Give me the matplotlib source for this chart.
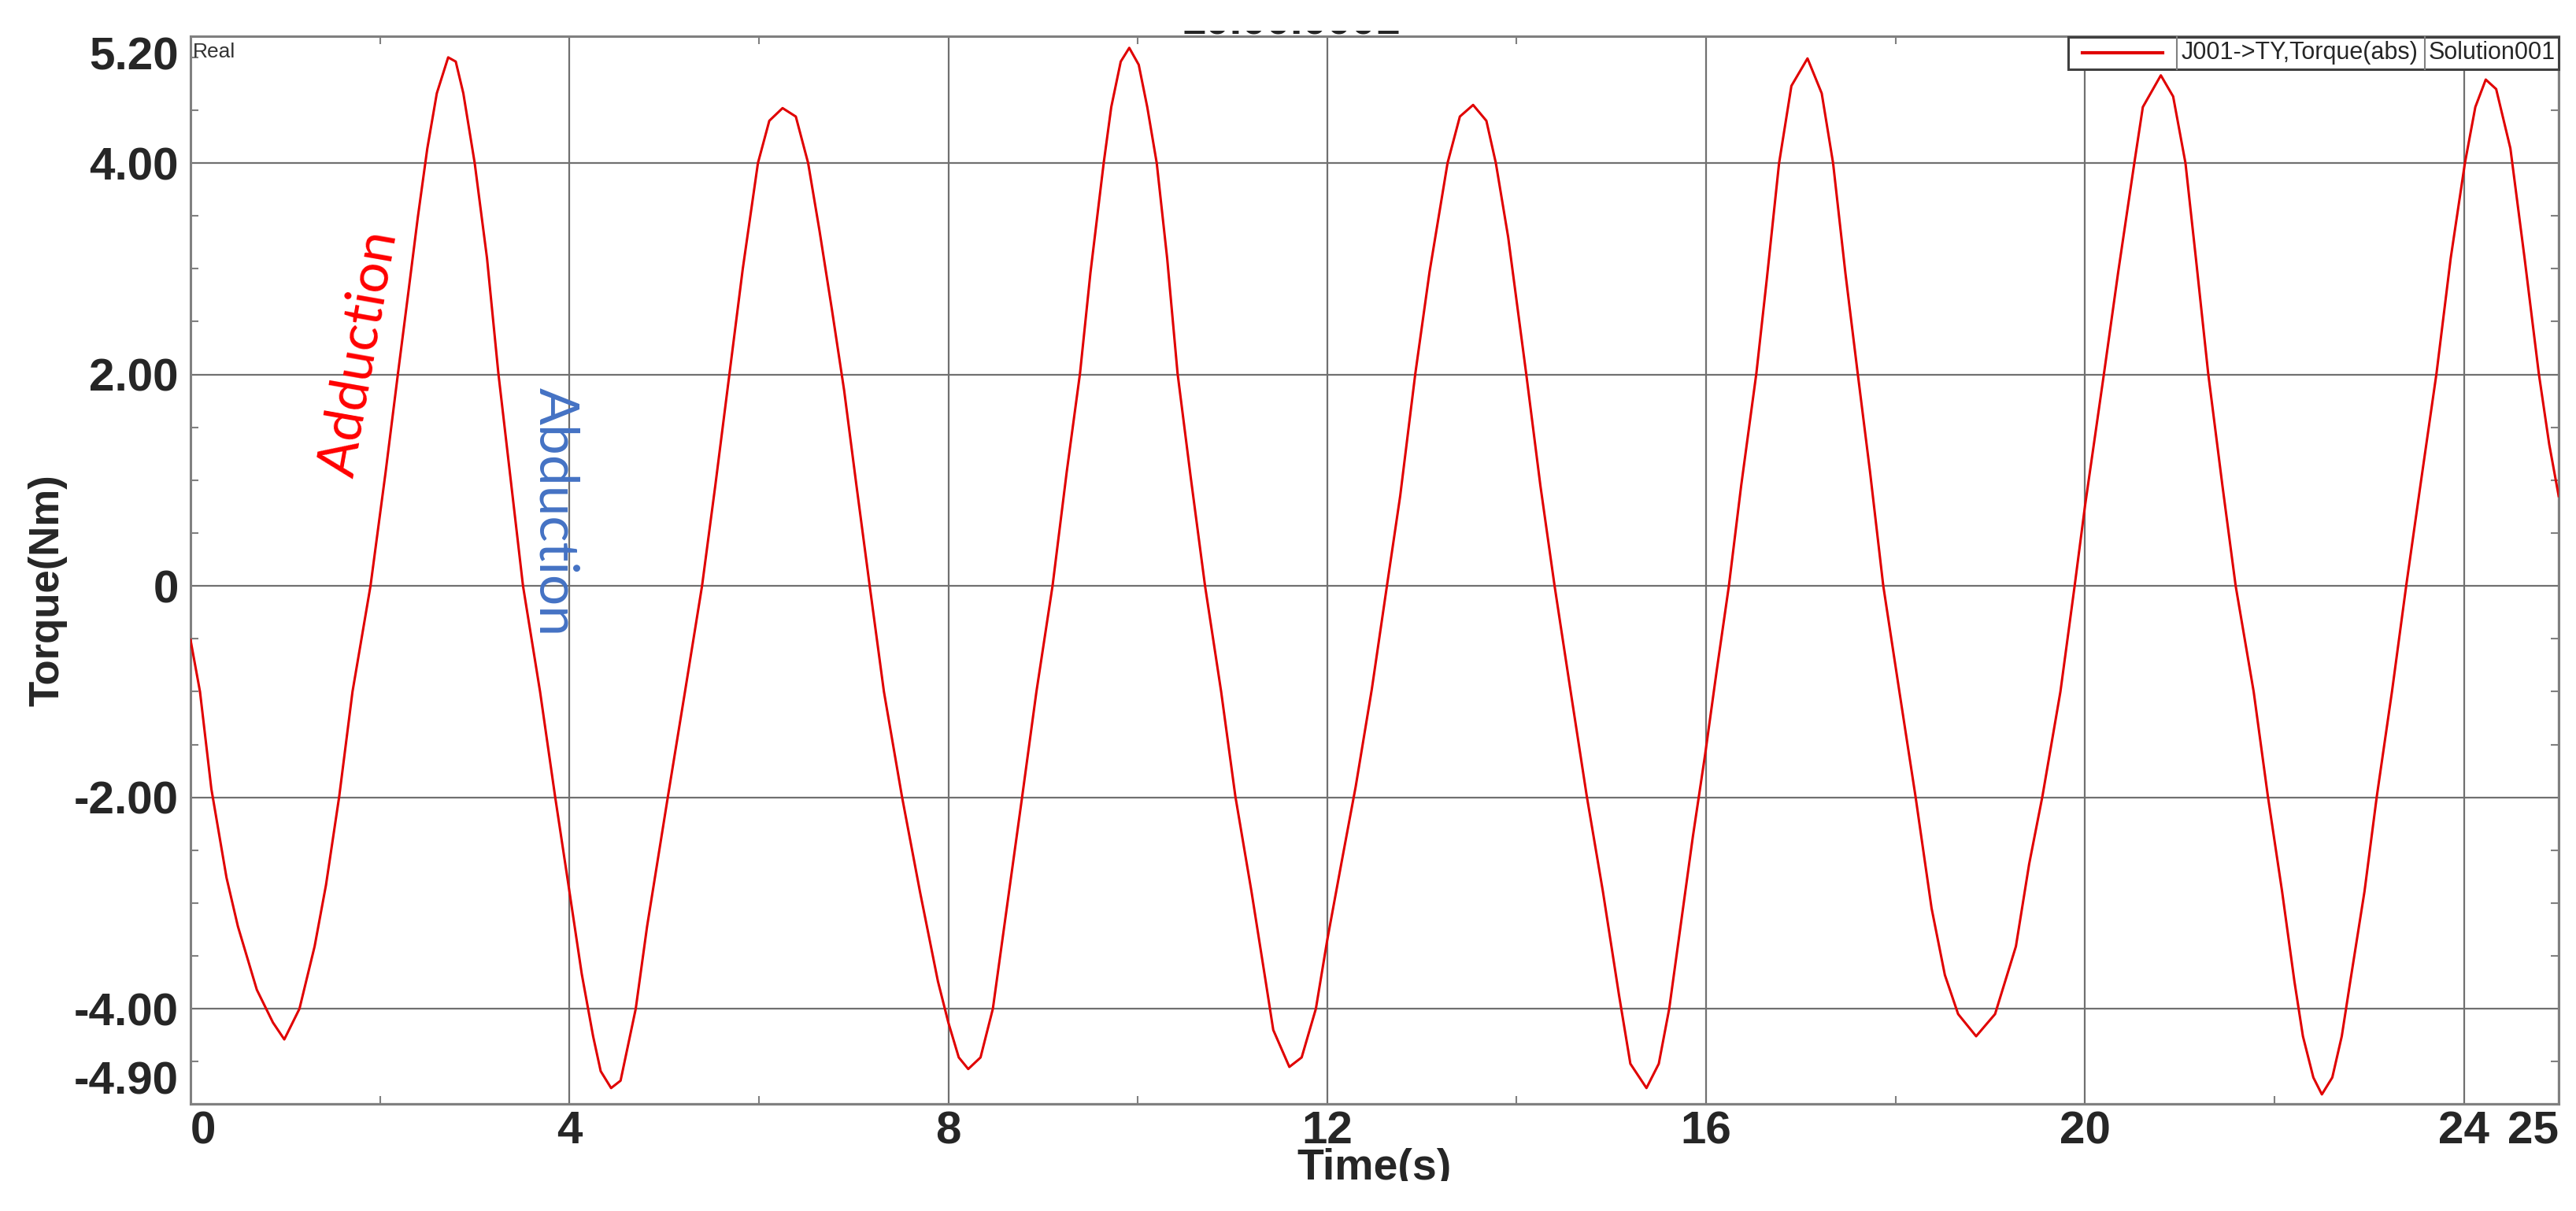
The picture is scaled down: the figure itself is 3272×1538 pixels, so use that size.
import matplotlib
matplotlib.use("Agg")
import matplotlib.pyplot as plt
from matplotlib.patches import Rectangle
from matplotlib.ticker import MultipleLocator
from matplotlib.transforms import Bbox, TransformedBbox

plt.rcParams["font.family"] = ["Liberation Sans", "DejaVu Sans"]

# ------------------------------------------------------------
# Data (time in s, torque in Nm)
# ------------------------------------------------------------
time_s = [
    0.00, 0.10, 0.22, 0.38, 0.50, 0.70, 0.87, 0.99, 1.15, 1.31, 1.43, 1.57, 1.71,
    1.90, 2.06, 2.19, 2.30, 2.40, 2.50, 2.60, 2.72, 2.80, 2.88, 3.00, 3.13, 3.25,
    3.37, 3.51, 3.69, 3.85, 4.00, 4.13, 4.25, 4.33, 4.44, 4.54, 4.70, 4.82, 5.04,
    5.22, 5.40, 5.54, 5.69, 5.83, 5.99, 6.11, 6.25, 6.39, 6.52, 6.64, 6.77, 6.90,
    7.03, 7.17, 7.32, 7.51, 7.70, 7.89, 8.00, 8.11, 8.21, 8.34, 8.47, 8.59, 8.78,
    8.93, 9.10, 9.25, 9.39, 9.50, 9.64, 9.72, 9.82, 9.91, 10.01, 10.10, 10.20,
    10.31, 10.42, 10.56, 10.71, 10.88, 11.03, 11.20, 11.35, 11.43, 11.60, 11.73,
    11.88, 12.00, 12.15, 12.30, 12.47, 12.63, 12.77, 12.93, 13.08, 13.27, 13.40,
    13.54, 13.68, 13.78, 13.91, 14.10, 14.25, 14.40, 14.57, 14.74, 14.91, 15.08,
    15.20, 15.37, 15.50, 15.61, 15.73, 15.86, 15.99, 16.11, 16.24, 16.37, 16.53,
    16.64, 16.77, 16.90, 17.07, 17.22, 17.34, 17.47, 17.60, 17.73, 17.87, 18.04,
    18.21, 18.38, 18.52, 18.66, 18.85, 19.05, 19.27, 19.41, 19.55, 19.74, 19.89,
    20.00, 20.20, 20.35, 20.52, 20.61, 20.80, 20.93, 21.06, 21.17, 21.30, 21.45,
    21.59, 21.78, 21.93, 22.08, 22.21, 22.30, 22.41, 22.50, 22.61, 22.71, 22.80,
    22.95, 23.08, 23.24, 23.39, 23.54, 23.71, 23.86, 24.01, 24.12, 24.23, 24.34,
    24.49, 24.64, 24.79, 24.90, 25.00,
]
torque_nm = [
    -0.51, -1.00, -1.92, -2.76, -3.22, -3.82, -4.13, -4.29, -4.00, -3.41, -2.83,
    -1.99, -1.00, 0.00, 1.08, 2.01, 2.78, 3.49, 4.14, 4.66, 5.00, 4.96, 4.66,
    4.00, 3.10, 2.01, 1.08, 0.00, -1.00, -2.00, -2.89, -3.67, -4.26, -4.59, -4.75,
    -4.68, -4.00, -3.22, -1.99, -1.00, 0.00, 0.95, 2.01, 3.00, 4.00, 4.40, 4.52,
    4.44, 4.00, 3.36, 2.62, 1.85, 0.95, 0.00, -1.00, -1.99, -2.89, -3.74, -4.13,
    -4.46, -4.57, -4.46, -4.00, -3.22, -1.99, -1.00, 0.00, 1.08, 2.01, 2.96, 4.00,
    4.53, 4.96, 5.09, 4.93, 4.53, 4.00, 3.10, 2.01, 1.02, 0.00, -1.00, -1.99,
    -2.89, -3.74, -4.20, -4.55, -4.46, -4.00, -3.35, -2.62, -1.90, -0.98, 0.00,
    0.85, 2.01, 2.97, 4.00, 4.44, 4.55, 4.40, 4.00, 3.30, 2.01, 0.95, 0.00, -1.00,
    -1.99, -2.89, -3.87, -4.52, -4.75, -4.52, -4.00, -3.22, -2.37, -1.59, -0.81,
    0.00, 0.95, 2.01, 2.90, 4.00, 4.73, 4.99, 4.66, 4.00, 2.96, 2.01, 1.08, 0.00,
    -1.00, -1.99, -3.05, -3.68, -4.05, -4.26, -4.05, -3.41, -2.63, -1.99, -1.00,
    0.00, 0.76, 2.01, 2.97, 4.00, 4.53, 4.83, 4.63, 4.00, 3.10, 2.01, 0.95, 0.00,
    -1.00, -1.99, -2.89, -3.74, -4.26, -4.65, -4.81, -4.65, -4.26, -3.74, -2.89,
    -1.99, -1.00, 0.00, 0.95, 2.01, 3.10, 4.00, 4.53, 4.79, 4.70, 4.14, 3.10,
    2.01, 1.34, 0.85,
]

x_ticks = [0, 4, 8, 12, 16, 20, 24, 25]
x_tick_labels = ["0", "4", "8", "12", "16", "20", "24", "25"]
y_ticks = [-4.9, -4.0, -2.0, 0.0, 2.0, 4.0, 5.2]
y_tick_labels = ["-4.90", "-4.00", "-2.00", "0", "2.00", "4.00", "5.20"]

series_name = "J001->TY,Torque(abs)"
solution_name = "Solution001"

line_color = "#e00000"
grid_color = "#707070"
text_color = "#262626"

# ------------------------------------------------------------
# Figure
# ------------------------------------------------------------
fig = plt.figure(figsize=(32.72, 15.38), dpi=100)
ax = fig.add_axes([0.07396, 0.08843, 0.91932, 0.88166])

ax.plot(time_s, torque_nm, color=line_color, lw=2.2, zorder=3)

ax.set_xticks(x_ticks)
ax.set_xticklabels(x_tick_labels)
ax.set_yticks(y_ticks)
ax.set_yticklabels(y_tick_labels)
ax.xaxis.set_minor_locator(MultipleLocator(2))
ax.yaxis.set_minor_locator(MultipleLocator(0.5))

ax.grid(True, which="major", color=grid_color, lw=1.6)
ax.tick_params(which="major", length=0, labelsize=42, labelcolor=text_color)
ax.tick_params(axis="x", which="major", pad=6)
ax.tick_params(axis="y", which="major", pad=11)
ax.tick_params(which="minor", direction="in", length=7, width=1.5,
               color="#808080", top=True, right=True)

for lbl in ax.get_xticklabels() + ax.get_yticklabels():
    lbl.set_fontweight("bold")
xl = ax.get_xticklabels()
xl[0].set_horizontalalignment("left")
xl[-1].set_horizontalalignment("right")
yl = ax.get_yticklabels()
yl[0].set_verticalalignment("bottom")
yl[-1].set_verticalalignment("top")

for sp in ax.spines.values():
    sp.set_color("#808080")
    sp.set_linewidth(2.2)

ax.text(0.001, 0.994, "Real", transform=ax.transAxes, ha="left", va="top",
        fontsize=19, color="#333333")

# legend box drawn as a three-cell strip, top right
lx0, lx1, ly0, ly1 = 0.7929, 1.0, 0.969, 0.999
ax.add_patch(Rectangle((lx0, ly0), lx1 - lx0, ly1 - ly0, transform=ax.transAxes,
                       facecolor="white", edgecolor="#404040", lw=2.2,
                       clip_on=False, zorder=6))
for xd in (0.8388, 0.9435):
    ax.plot([xd, xd], [ly0, ly1], transform=ax.transAxes, color="#808080",
            lw=1.5, clip_on=False, zorder=7)
ax.plot([0.7989, 0.8328], [0.9845, 0.9845], transform=ax.transAxes,
        color=line_color, lw=3, clip_on=False, zorder=7)
ax.text(0.8906, 0.9845, series_name, transform=ax.transAxes, ha="center",
        va="center", fontsize=22, color=text_color, zorder=8)
ax.text(0.9718, 0.9845, solution_name, transform=ax.transAxes, ha="center",
        va="center", fontsize=22, color=text_color, zorder=8)

ax.set_xlim(0, 25)
ax.set_ylim(-4.9, 5.2)

# annotations
fig.text(457 / 3272, 1 - 449 / 1538, "Adduction", rotation=80, color="#ff0000",
         fontsize=50, family="Lato", ha="center", va="center")
fig.text(705 / 3272, 1 - 650 / 1538, "Abduction", rotation=-90, color="#4472c4",
         fontsize=50, family="Lato", ha="center", va="center")

# axis titles
fig.text(60 / 3272, 1 - 750 / 1538, "Torque(Nm)", rotation=90, ha="center",
         va="center", fontsize=38, fontweight="bold", color=text_color)
xlab = fig.text(1746 / 3272, 1 - 1458 / 1538, "Time(s)", ha="center", va="top",
                fontsize=40, fontweight="bold", color=text_color)
xlab.set_clip_box(TransformedBbox(Bbox([[0, 38 / 1538], [1, 1]]), fig.transFigure))
xlab.set_clip_on(True)

# plot title, mostly cropped away in the source image
title = fig.text(1640 / 3272, 1 - 44 / 1538, "10.00.0001", ha="center",
                 va="baseline", fontsize=40, fontweight="bold", color=text_color)
title.set_clip_box(TransformedBbox(Bbox([[0, 0], [1, 1 - 39 / 1538]]), fig.transFigure))
title.set_clip_on(True)

fig.savefig("out.png", dpi=100, facecolor="white")
